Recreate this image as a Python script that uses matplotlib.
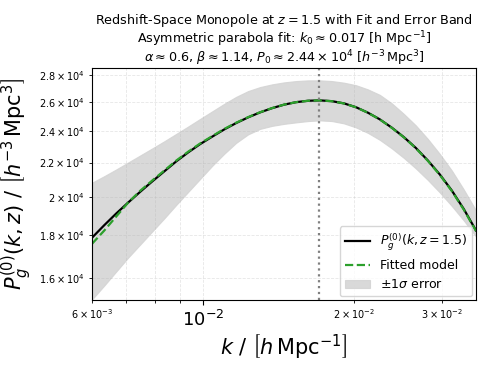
import matplotlib
matplotlib.use("Agg")
import matplotlib.pyplot as plt

# wavenumber k [h/Mpc]
k = [0.006000, 0.006350, 0.006709, 0.007089, 0.007490, 0.007913, 0.008361,
     0.008834, 0.009333, 0.009861, 0.010419, 0.011008, 0.011631, 0.012289,
     0.012984, 0.013718, 0.014494, 0.015314, 0.016180, 0.017095, 0.018062,
     0.019083, 0.020163, 0.021303, 0.022508, 0.023781, 0.025126, 0.026547,
     0.028049, 0.029635, 0.031311, 0.033082, 0.035000]

# measured monopole P_g^(0)(k, z=1.5)
pk = [17888, 18520, 19126, 19715, 20304, 20888, 21472, 22071, 22625, 23148,
      23625, 24098, 24527, 24915, 25260, 25554, 25802, 25980, 26081, 26109,
      26052, 25895, 25625, 25240, 24778, 24218, 23599, 22908, 22132, 21295,
      20377, 19365, 18251]

# asymmetric parabola fit
pk_fit = [17590, 18250, 18970, 19715, 20360, 20940, 21520, 22120, 22670, 23190,
          23660, 24130, 24550, 24930, 25270, 25560, 25805, 25980, 26080, 26109,
          26050, 25890, 25620, 25235, 24770, 24205, 23585, 22890, 22110, 21270,
          20350, 19335, 18220]

# +/- 1 sigma band
pk_low = [15092, 15686, 16303, 16943, 17561, 18201, 18865, 19579, 20293, 21033,
          21800, 22532, 23225, 23775, 24138, 24339, 24473, 24574, 24663, 24710,
          24663, 24507, 24238, 23874, 23418, 22876, 22285, 21650, 20975, 20265,
          19526, 18761, 17952]
pk_high = [20814, 21196, 21591, 22011, 22439, 22876, 23328, 23808, 24298, 24812,
           25330, 25859, 26362, 26787, 27084, 27286, 27436, 27535, 27588, 27588,
           27535, 27414, 27226, 26913, 26508, 25895, 25156, 24372, 23483, 22532,
           21531, 20433, 19285]

k0 = 0.017

fig = plt.figure(figsize=(4.88, 3.66), dpi=100)
ax = fig.add_axes([0.1885, 0.1803, 0.7869, 0.6331])

band = ax.fill_between(k, pk_low, pk_high, color="lightgray", alpha=0.85,
                       linewidth=0.8, label=r"$\pm1\sigma$ error")
line, = ax.plot(k, pk, color="black", lw=1.6, label=r"$P_g^{(0)}(k, z=1.5)$")
fit, = ax.plot(k, pk_fit, color="tab:green", lw=1.6, ls="--", label="Fitted model")
ax.axvline(k0, color="gray", ls=":", lw=1.6)

ax.set_xscale("log")
ax.set_yscale("log")
ax.set_xlim(0.006, 0.035)
ax.set_ylim(1.507e4, 2.852e4)

ax.grid(True, which="both", ls="--", lw=0.6, alpha=0.3)
ax.tick_params(axis="both", which="major", labelsize=13)
ax.tick_params(axis="both", which="minor", labelsize=7)

ax.set_xlabel(r"$k\ /\ \left[h\,\mathrm{Mpc}^{-1}\right]$", fontsize=15, labelpad=2)
ax.set_ylabel(r"$P_g^{(0)}(k, z)\ /\ \left[h^{-3}\,\mathrm{Mpc}^3\right]$", fontsize=15)
ax.set_title("Redshift-Space Monopole at $z = 1.5$ with Fit and Error Band\n"
             r"Asymmetric parabola fit: $k_0 \approx 0.017$ [h Mpc$^{-1}$]" "\n"
             r"$\alpha \approx 0.6$, $\beta \approx 1.14$, "
             r"$P_0 \approx 2.44 \times 10^4$ [$h^{-3}\,\mathrm{Mpc}^3$]",
             fontsize=9.2, pad=1.5, linespacing=1.0)

ax.legend(handles=[line, fit, band], loc="lower right", fontsize=9,
          borderaxespad=0.3)

fig.savefig("out.png", dpi=100, facecolor="white")
